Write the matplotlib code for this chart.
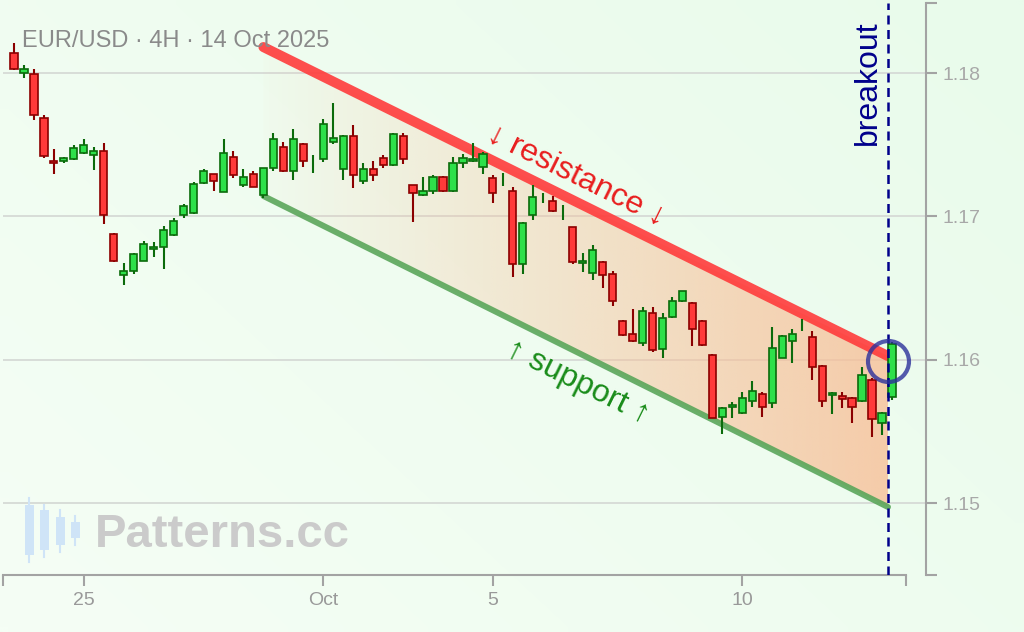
import numpy as np
import matplotlib
matplotlib.use('Agg')
import matplotlib.pyplot as plt
from matplotlib.patches import Rectangle, Polygon

plt.rcParams['font.family'] = ['Liberation Sans', 'DejaVu Sans']

# ---------------- data (4H EUR/USD candles, bar index on x) ----------------
opens = [1.18142, 1.18002, 1.17991, 1.17684, 1.17388, 1.17388, 1.17400, 1.17440, 1.17428, 1.17458,
         1.16874, 1.16590, 1.16618, 1.16690, 1.16770, 1.16784, 1.16870, 1.17009, 1.17020, 1.17230,
         1.17293, 1.17172, 1.17416, 1.17218, 1.17295, 1.17149, 1.17339, 1.17486, 1.17316, 1.17502,
         1.17370, 1.17400, 1.17521, 1.17328, 1.17560, 1.17246, 1.17330, 1.17405, 1.17358, 1.17560,
         1.17218, 1.17149, 1.17177, 1.17276, 1.17177, 1.17374, 1.17388, 1.17346, 1.17265, 1.17250,
         1.17179, 1.16665, 1.17009, 1.17130, 1.17109, 1.17030, 1.16927, 1.16672, 1.16606, 1.16679,
         1.16595, 1.16272, 1.16177, 1.16114, 1.16327, 1.16072, 1.16299, 1.16409, 1.16397, 1.16272,
         1.16032, 1.15602, 1.15671, 1.15625, 1.15711, 1.15758, 1.15697, 1.16013, 1.16130, 1.16240,
         1.16160, 1.15955, 1.15751, 1.15746, 1.15730, 1.15711, 1.15858, 1.15556, 1.15737]
highs = [1.18207, 1.18058, 1.18026, 1.17707, 1.17470, 1.17416, 1.17498, 1.17540, 1.17486, 1.17509,
         1.16881, 1.16672, 1.16746, 1.16828, 1.16823, 1.16932, 1.16986, 1.17086, 1.17241, 1.17328,
         1.17293, 1.17537, 1.17456, 1.17328, 1.17316, 1.17339, 1.17579, 1.17521, 1.17607, 1.17509,
         1.17428, 1.17679, 1.17789, 1.17567, 1.17637, 1.17370, 1.17386, 1.17428, 1.17579, 1.17579,
         1.17218, 1.17272, 1.17288, 1.17281, 1.17412, 1.17433, 1.17509, 1.17451, 1.17288, 1.17300,
         1.17202, 1.16962, 1.17218, 1.17160, 1.17142, 1.17079, 1.16927, 1.16742, 1.16800, 1.16690,
         1.16618, 1.16276, 1.16351, 1.16365, 1.16365, 1.16323, 1.16435, 1.16479, 1.16400, 1.16276,
         1.16037, 1.15667, 1.15706, 1.15776, 1.15853, 1.15776, 1.16225, 1.16172, 1.16211, 1.16283,
         1.16200, 1.15962, 1.15776, 1.15776, 1.15737, 1.15946, 1.15870, 1.15637, 1.16125]
lows = [1.18021, 1.17963, 1.17672, 1.17405, 1.17293, 1.17370, 1.17393, 1.17435, 1.17323, 1.16944,
        1.16683, 1.16521, 1.16595, 1.16688, 1.16718, 1.16632, 1.16865, 1.16986, 1.17016, 1.17223,
        1.17179, 1.17168, 1.17265, 1.17207, 1.17202, 1.17126, 1.17316, 1.17311, 1.17253, 1.17346,
        1.17304, 1.17377, 1.17502, 1.17253, 1.17195, 1.17223, 1.17246, 1.17335, 1.17353, 1.17363,
        1.16958, 1.17142, 1.17154, 1.17172, 1.17170, 1.17335, 1.17381, 1.17295, 1.17095, 1.17211,
        1.16579, 1.16597, 1.16974, 1.17093, 1.17032, 1.16974, 1.16667, 1.16613, 1.16556, 1.16498,
        1.16374, 1.16165, 1.16121, 1.16095, 1.16051, 1.16009, 1.16288, 1.16400, 1.16095, 1.16095,
        1.15590, 1.15479, 1.15590, 1.15620, 1.15671, 1.15602, 1.15660, 1.16009, 1.15978, 1.16202,
        1.15858, 1.15671, 1.15618, 1.15660, 1.15559, 1.15706, 1.15462, 1.15474, 1.15718]
closes = [1.18026, 1.18030, 1.17705, 1.17423, 1.17370, 1.17409, 1.17475, 1.17498, 1.17458, 1.17009,
          1.16688, 1.16620, 1.16735, 1.16805, 1.16788, 1.16904, 1.16969, 1.17072, 1.17223, 1.17318,
          1.17246, 1.17444, 1.17288, 1.17276, 1.17202, 1.17335, 1.17539, 1.17316, 1.17539, 1.17386,
          1.17370, 1.17642, 1.17544, 1.17560, 1.17288, 1.17330, 1.17288, 1.17358, 1.17572, 1.17398,
          1.17165, 1.17179, 1.17276, 1.17177, 1.17374, 1.17405, 1.17402, 1.17433, 1.17160, 1.17250,
          1.16665, 1.16955, 1.17137, 1.17130, 1.17037, 1.17030, 1.16683, 1.16690, 1.16765, 1.16590,
          1.16411, 1.16172, 1.16130, 1.16341, 1.16067, 1.16288, 1.16409, 1.16479, 1.16214, 1.16102,
          1.15595, 1.15660, 1.15683, 1.15730, 1.15783, 1.15671, 1.16079, 1.16165, 1.16177, 1.16240,
          1.15946, 1.15711, 1.15769, 1.15727, 1.15671, 1.15893, 1.15585, 1.15630, 1.16107]

x_tick_pos = [7, 31, 48, 73]
x_tick_labels = ['25', 'Oct', '5', '10']
y_ticks = [1.15, 1.16, 1.17, 1.18]
y_tick_labels = ['1.15', '1.16', '1.17', '1.18']

channel_x = [25, 87.6]
resistance_y = [1.18181, 1.16025]
support_y = [1.17142, 1.14972]
breakout_x = 87.6
breakout_price = 1.15993

title = 'EUR/USD · 4H · 14 Oct 2025'

# ---------------- figure ----------------
W, H = 1024, 632
fig = plt.figure(figsize=(W / 100, H / 100), dpi=100)

# subtle mint background gradient
bg = fig.add_axes([0, 0, 1, 1], zorder=-10)
gx, gy = np.meshgrid(np.linspace(0, 1, 64), np.linspace(0, 1, 64))
t = (gx * 0.6 + gy * 0.4)[..., None]
light = np.array([245, 254, 245]) / 255
dark = np.array([233, 251, 235]) / 255
bg.imshow(light + (dark - light) * t, origin='lower', extent=[0, 1, 0, 1],
          aspect='auto', interpolation='bilinear')
bg.set_axis_off()

ax = fig.add_axes([3 / W, 1 - 575 / H, (926 - 3) / W, (575 - 3) / H])
ax.set_facecolor('none')
xlo, xhi = -1.1025, 91.41
ylo, yhi = 1.144977, 1.184884

# channel gradient fill
poly = Polygon([(channel_x[0], resistance_y[0]), (channel_x[1], resistance_y[1]),
                (channel_x[1], support_y[1]), (channel_x[0], support_y[0])],
               closed=True, facecolor='none', edgecolor='none')
ax.add_patch(poly)
N = 256
grad = np.zeros((2, N, 4))
grad[..., 0] = 248 / 255
grad[..., 1] = 190 / 255
grad[..., 2] = 150 / 255
grad[..., 3] = np.linspace(0.03, 0.78, N)[None, :]
im = ax.imshow(grad, extent=[channel_x[0], channel_x[1], support_y[1], resistance_y[0]],
               origin='lower', aspect='auto', interpolation='bilinear', zorder=1)
im.set_clip_path(poly)

# channel lines
ax.plot(channel_x, resistance_y, color='#ff3b3b', lw=7.2, alpha=0.9,
        solid_capstyle='round', zorder=2)
ax.plot(channel_x, support_y, color='#5aa65a', lw=4.3, alpha=0.9,
        solid_capstyle='round', zorder=2)

# candles
bw = 0.72
for i, (o, h, l, c) in enumerate(zip(opens, highs, lows, closes)):
    up = c >= o
    edge = '#0b6b0b' if up else '#8b0000'
    fill = '#2ee04a' if up else '#ff3a3a'
    ax.plot([i, i], [l, h], color=edge, lw=1.5, zorder=3, solid_capstyle='butt')
    if o != c:
        ax.add_patch(Rectangle((i - bw / 2, min(o, c)), bw, abs(c - o),
                               facecolor=fill, edgecolor=edge, lw=1.2, zorder=4))

# breakout marker
ax.axvline(breakout_x, color='#00008b', lw=1.8, ls=(0, (3.6, 2.2)), zorder=6)
ax.plot([breakout_x], [breakout_price], 'o', ms=29.5, mfc='none', mec='#2b309b',
        mew=3.0, alpha=0.8, zorder=7)

# labels on chart
ax.text(56.4, 1.17288, '↓ resistance ↓', rotation=-26.3, rotation_mode='anchor',
        ha='center', va='center', color='#e81e1e', fontsize=23, zorder=8)
ax.text(56.5, 1.15844, '↑ support ↑', rotation=-26.3, rotation_mode='anchor',
        ha='center', va='center', color='#1a8c1a', fontsize=23, zorder=8)
ax.text(85.6, 1.1793, 'breakout', rotation=90, rotation_mode='anchor',
        ha='center', va='center', color='#00008b', fontsize=23, zorder=8)

# axes styling
ax.set_xlim(xlo, xhi)
ax.set_ylim(ylo, yhi)
axis_col = '#a3a3a3'
for s in ['top', 'left']:
    ax.spines[s].set_visible(False)
ax.spines['right'].set_color(axis_col)
ax.spines['right'].set_linewidth(1.5)
ax.spines['bottom'].set_color(axis_col)
ax.spines['bottom'].set_linewidth(1.5)
ax.spines['bottom'].set_bounds(xlo, 89.4)

ax.yaxis.tick_right()
ax.set_yticks(y_ticks)
ax.set_yticklabels(y_tick_labels)
ax.set_yticks([ylo, yhi], minor=True)
ax.set_xticks(x_tick_pos)
ax.set_xticklabels(x_tick_labels)
ax.set_xticks([xlo, 89.4], minor=True)
ax.tick_params(axis='both', which='both', direction='out', length=8, width=1.5,
               color=axis_col)
ax.tick_params(axis='y', which='major', labelsize=14, labelcolor='#a8a8a8', pad=4)
ax.tick_params(axis='x', which='major', labelsize=14, labelcolor='#999999', pad=4)
ax.tick_params(which='minor', labelbottom=False, labelright=False)
ax.grid(axis='y', which='major', color='#d6dad6', lw=1.3, zorder=0)
ax.set_axisbelow(True)

# title
fig.text(22 / W, 1 - 41 / H, title, ha='left', va='center', fontsize=17, color='#8a8a8a')

# watermark
logo = [(29, 505, 555, 498, 562), (44, 510, 550, 505, 557),
        (60, 517, 545, 510, 552), (75, 522, 538, 516, 545)]
for (cx, b0, b1, w0, w1) in logo:
    fig.add_artist(plt.Line2D([cx / W, cx / W], [1 - w1 / H, 1 - w0 / H],
                              color='#cfe4f7', lw=1.5, transform=fig.transFigure))
    fig.add_artist(Rectangle(((cx - 4.5) / W, 1 - b1 / H), 9 / W, (b1 - b0) / H,
                             facecolor='#cfe4f7', edgecolor='none',
                             transform=fig.transFigure))
fig.text(95 / W, 1 - 535 / H, 'Patterns.cc', ha='left', va='center', fontsize=34,
         fontweight='bold', color='#cbcbcb')

fig.savefig('out.png', dpi=100)
